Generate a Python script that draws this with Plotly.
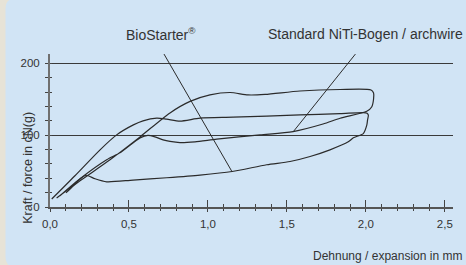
import plotly.graph_objects as go

# ---- data ----
std_x = [0.042, 0.19, 0.38, 0.57, 0.76, 0.887, 1.013, 1.14, 1.254, 1.362, 1.583, 1.837, 2.033, 2.049, 2.049, 2.037, 2.006,
         1.837, 1.729, 1.539, 1.33, 1.056, 0.918, 0.823, 0.76, 0.716, 0.665, 0.62, 0.57, 0.443, 0.359, 0.19, 0.063]
std_y = [12.5, 36.5, 65.7, 97.6, 131, 147, 156, 159.4, 156, 156.7, 161.5, 163.6, 163, 158.8, 150.4, 139.3, 133.3,
         123.5, 115.5, 105, 100.4, 94.4, 90.7, 89.7, 91.4, 93.5, 97.6, 99.7, 96.2, 75.4, 65.7, 39.3, 15.7]

bio_x = [0.011, 0.158, 0.317, 0.422, 0.528, 0.589, 0.676, 0.739, 0.823, 0.95, 1.159, 1.583, 1.837, 1.982, 2.008, 2.016,
         2.011, 2.006, 1.984, 1.921, 1.889, 1.773, 1.647, 1.52, 1.372, 1.153, 0.95, 0.739, 0.526, 0.359, 0.285, 0.228,
         0.177, 0.127, 0.101]
bio_y = [11.1, 43.5, 79.6, 100.4, 114.3, 119.9, 123.6, 122.2, 119.6, 123.6, 125, 128.2, 130, 131.4, 130.6, 127.8,
         121.3, 113.9, 102.2, 96.3, 90.7, 79.6, 70.3, 63.3, 58.8, 49.4, 44.4, 40.7, 37.5, 35.1, 39.3, 44.2,
         36.5, 25, 19.9]

bio_ptr_x = [0.722, 1.153]
bio_ptr_y = [212.9, 49.0]
std_ptr_x = [1.934, 1.541]
std_ptr_y = [212.9, 105.0]

label_bio = "BioStarter<sup>®</sup>"
label_std = "Standard NiTi-Bogen / archwire"
x_title = "Dehnung / expansion in mm"
y_title = "Kraft / force in cN(g)"

FONT = "Liberation Sans, Arial, sans-serif"
INK = "#2b2b2b"
TXT = "#333333"
BLUE = "#D1E4F5"
BEIGE = "#E7E3D7"

fig = go.Figure()
for xs, ys in [(std_x, std_y), (bio_x, bio_y)]:
    fig.add_trace(go.Scatter(x=xs, y=ys, mode="lines",
                             line=dict(color=INK, width=1.2, shape="spline", smoothing=0.7),
                             hoverinfo="skip"))
for xs, ys in [(bio_ptr_x, bio_ptr_y), (std_ptr_x, std_ptr_y)]:
    fig.add_trace(go.Scatter(x=xs, y=ys, mode="lines",
                             line=dict(color=INK, width=1), hoverinfo="skip"))

# rounded background panel (paper coords)
def px2paper_x(p):
    return (p - 50) / 403.0
def px2paper_y(p):
    return (207.3 - p) / 153.3

L, R, T, B = px2paper_x(5.5), px2paper_x(470), px2paper_y(-2), px2paper_y(268)
rx, ry = 11 / 403.0, 11 / 153.3
path = (f"M {L+rx},{T} L {R-rx},{T} Q {R},{T} {R},{T-ry} L {R},{B+ry} Q {R},{B} {R-rx},{B} "
        f"L {L+rx},{B} Q {L},{B} {L},{B+ry} L {L},{T-ry} Q {L},{T} {L+rx},{T} Z")
fig.add_shape(type="path", path=path, xref="paper", yref="paper",
              fillcolor=BLUE, line=dict(width=0), layer="below")

tickfont = dict(family=FONT, size=11.5, color=TXT)

fig.update_layout(
    width=466, height=265,
    margin=dict(l=50, r=13, t=54, b=57.7),
    paper_bgcolor=BEIGE, plot_bgcolor="rgba(0,0,0,0)",
    showlegend=False, hovermode=False,
    separators=",.",
    font=dict(family=FONT, size=12, color=TXT),
    xaxis=dict(range=[0, 2.552], showline=True, linecolor="#555555", linewidth=1.5,
               ticks="outside", ticklen=3, tickwidth=1, tickcolor="#444444",
               tick0=0, dtick=0.5, tickformat=".1f",
               minor=dict(dtick=0.1, ticks="outside", ticklen=2, tickwidth=1, tickcolor="#444444"),
               showgrid=False, zeroline=False, tickfont=tickfont, ticklabelstandoff=3),
    xaxis2=dict(overlaying="x", matches="x", anchor="y", side="bottom", range=[0, 2.552],
                ticks="inside", ticklen=7, tickwidth=1, tickcolor="#444444", tick0=0, dtick=0.5,
                minor=dict(dtick=0.1, ticks="inside", ticklen=3, tickwidth=1, tickcolor="#444444"),
                showticklabels=False, showline=False, showgrid=False, zeroline=False),
    yaxis=dict(range=[0, 213], showline=True, linecolor="#707070", linewidth=2,
               ticks="outside", ticklen=3, tickwidth=1, tickcolor="#444444",
               tick0=0, dtick=100,
               minor=dict(dtick=20, ticks="outside", ticklen=3, tickwidth=1, tickcolor="#444444"),
               showgrid=True, gridcolor="#3a3a3a", gridwidth=1.3, zeroline=False,
               tickfont=tickfont, ticklabelstandoff=3),
    yaxis2=dict(overlaying="y", matches="y", anchor="x", side="left", range=[0, 213],
                ticks="inside", ticklen=2, tickwidth=1, tickcolor="#444444", tick0=0, dtick=100,
                minor=dict(dtick=20, ticks="inside", ticklen=2, tickwidth=1, tickcolor="#444444"),
                showticklabels=False, showline=False, showgrid=False, zeroline=False),
)

fig.add_trace(go.Scatter(x=[None], y=[None], xaxis="x2", yaxis="y2", mode="lines", hoverinfo="skip"))

fig.add_annotation(text=label_bio, x=px2paper_x(160.5), y=px2paper_y(33.5), xref="paper", yref="paper",
                   showarrow=False, font=dict(family=FONT, size=14, color=TXT),
                   xanchor="center", yanchor="middle")
fig.add_annotation(text=label_std, x=px2paper_x(365), y=px2paper_y(33.5), xref="paper", yref="paper",
                   showarrow=False, font=dict(family=FONT, size=14, color=TXT),
                   xanchor="center", yanchor="middle")
fig.add_annotation(text=x_title, x=px2paper_x(463.5), y=px2paper_y(256), xref="paper", yref="paper",
                   showarrow=False, font=dict(family=FONT, size=12, color=TXT),
                   xanchor="right", yanchor="middle")
fig.add_annotation(text=y_title, x=px2paper_x(28.5), y=px2paper_y(168.5), xref="paper", yref="paper",
                   showarrow=False, textangle=-90, font=dict(family=FONT, size=12.5, color=TXT),
                   xanchor="center", yanchor="middle")

fig.write_html("out.html", config={"displayModeBar": False, "staticPlot": True},
               post_script="document.body.style.margin='0';document.body.style.background='" + BEIGE + "';")
